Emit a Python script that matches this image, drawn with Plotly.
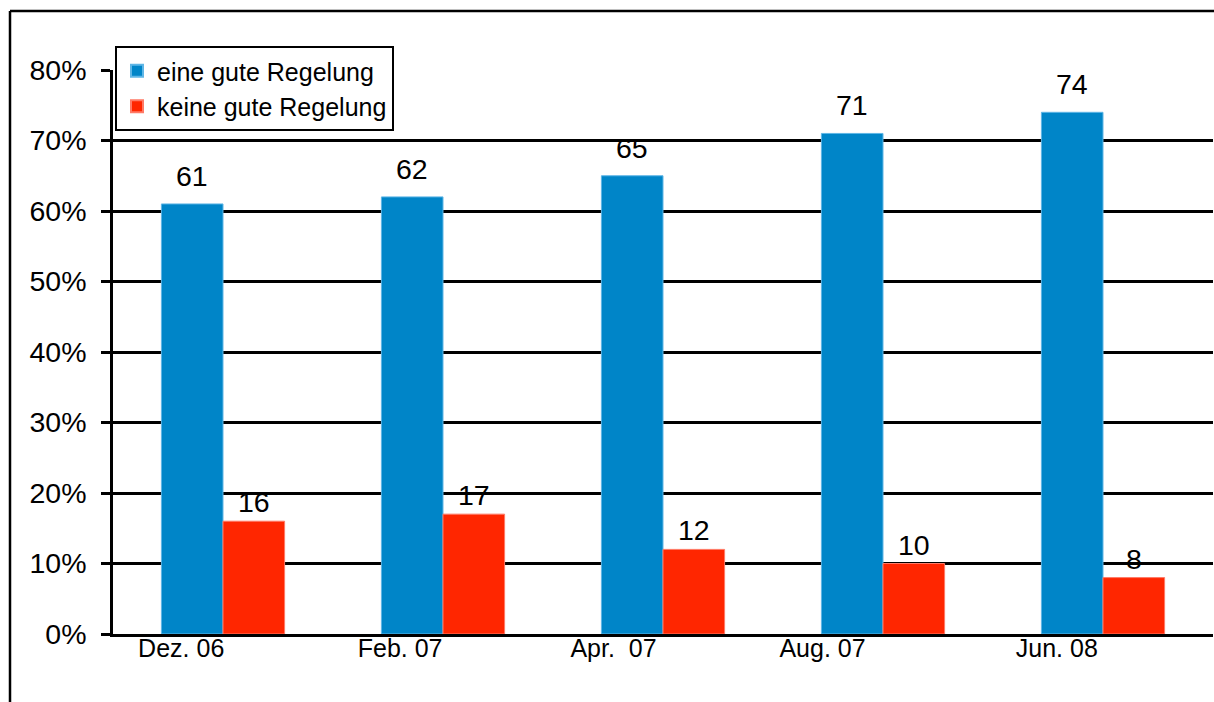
import plotly.graph_objects as go

# Survey waves and shares (in percent)
categories = ["Dez. 06", "Feb. 07", "Apr.  07", "Aug. 07", "Jun. 08"]
gute_regelung = [61, 62, 65, 71, 74]
keine_gute_regelung = [16, 17, 12, 10, 8]
y_ticks = [0, 10, 20, 30, 40, 50, 60, 70, 80]

# Styling
BLUE = "#0085C8"
RED = "#FF2600"
FONT = "Liberation Sans, Arial, sans-serif"
BAR_W = 0.28
label_shift = [-0.19, -0.195, -0.225, -0.275, -0.21]  # horizontal offset of each category label

W, H = 1214, 702
M_L, M_R, M_T, M_B = 113, 1, 70, 68
PW, PH = W - M_L - M_R, H - M_T - M_B


def px_x(p):
    return (p - M_L) / PW


def px_y(p):
    return (H - M_B - p) / PH


xs = list(range(len(categories)))

fig = go.Figure()
fig.add_trace(go.Bar(
    x=[x - BAR_W / 2 for x in xs], y=gute_regelung, width=BAR_W,
    name="eine gute Regelung", marker=dict(color=BLUE, line=dict(color="#5fb6e6", width=1)),
))
fig.add_trace(go.Bar(
    x=[x + BAR_W / 2 for x in xs], y=keine_gute_regelung, width=BAR_W,
    name="keine gute Regelung", marker=dict(color=RED, line=dict(color="#ff7a66", width=1)),
))

# Value labels above the bars
annotations = []
for x, v in zip(xs, gute_regelung):
    annotations.append(dict(x=x - BAR_W / 2, y=v, text=str(v), showarrow=False,
                            yanchor="bottom", yshift=10, font=dict(size=28.5, color="black", family=FONT)))
for x, v in zip(xs, keine_gute_regelung):
    annotations.append(dict(x=x + BAR_W / 2, y=v, text=str(v), showarrow=False,
                            yanchor="bottom", yshift=1, font=dict(size=28.5, color="black", family=FONT)))

# Outer frame lines (top and left)
shapes = [
    dict(type="line", xref="paper", yref="paper", x0=px_x(10), x1=px_x(W), y0=px_y(11), y1=px_y(11),
         line=dict(color="black", width=2.5)),
    dict(type="line", xref="paper", yref="paper", x0=px_x(10), x1=px_x(10), y0=px_y(11), y1=px_y(H),
         line=dict(color="black", width=2.5)),
]

fig.update_layout(
    width=W, height=H,
    margin=dict(l=M_L, r=M_R, t=M_T, b=M_B),
    paper_bgcolor="white", plot_bgcolor="white",
    font=dict(family=FONT, color="black"),
    barmode="overlay",
    showlegend=True,
    legend=dict(
        x=px_x(115), y=px_y(46), xanchor="left", yanchor="top",
        bgcolor="white", bordercolor="black", borderwidth=2,
        font=dict(size=25, family=FONT, color="black"),
        itemsizing="constant", tracegroupgap=0,
    ),
    xaxis=dict(
        range=[-0.5, len(categories) - 0.5],
        tickmode="array",
        tickvals=[x + s for x, s in zip(xs, label_shift)],
        ticktext=categories,
        tickfont=dict(size=25, family=FONT, color="black"),
        showgrid=False, zeroline=False,
        showline=True, linecolor="black", linewidth=2.5,
        ticks="", ticklabelstandoff=-10,
    ),
    yaxis=dict(
        range=[0, 80],
        tickmode="array", tickvals=y_ticks,
        ticktext=[f"{t}%" for t in y_ticks],
        tickfont=dict(size=28.5, family=FONT, color="black"),
        showgrid=True, gridcolor="black", gridwidth=2.5,
        zeroline=False,
        showline=True, linecolor="black", linewidth=2.5,
        ticks="outside", ticklen=9, tickwidth=2.5, tickcolor="black",
        ticklabelstandoff=9,
    ),
    annotations=annotations,
    shapes=shapes,
)

fig.write_html("out.html")
